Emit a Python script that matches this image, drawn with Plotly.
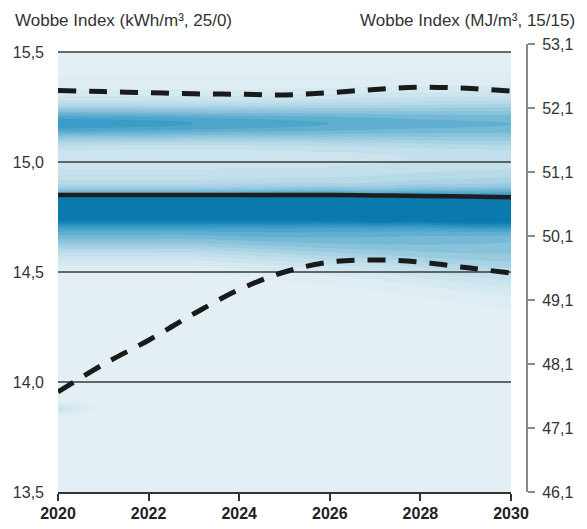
import numpy as np
import plotly.graph_objects as go

# ---- series (kWh/m³, 25/0) ----
years = list(range(2020, 2031))
median_kwh = [14.85, 14.85, 14.85, 14.85, 14.85, 14.85, 14.85, 14.848, 14.846, 14.843, 14.84]
upper_kwh = [15.325, 15.32, 15.315, 15.31, 15.308, 15.305, 15.315, 15.33, 15.34, 15.335, 15.322]
lower_kwh = [13.955, 14.08, 14.19, 14.31, 14.42, 14.50, 14.545, 14.555, 14.545, 14.52, 14.495]

# ---- axes ----
x_ticks = [2020, 2022, 2024, 2026, 2028, 2030]
left_ticks = [13.5, 14.0, 14.5, 15.0, 15.5]
left_labels = ["13,5", "14,0", "14,5", "15,0", "15,5"]
grid_levels = [14.0, 14.5, 15.0, 15.5]
right_ticks = [46.1, 47.1, 48.1, 49.1, 50.1, 51.1, 52.1, 53.1]
right_labels = ["46,1", "47,1", "48,1", "49,1", "50,1", "51,1", "52,1", "53,1"]

# ---- distribution bands per year: centre, spread, weight ----
core_center = [14.795, 14.795, 14.795, 14.795, 14.795, 14.795, 14.795, 14.79, 14.79, 14.785, 14.785]
core_sigma = [0.045, 0.045, 0.045, 0.045, 0.045, 0.046, 0.047, 0.048, 0.05, 0.052, 0.054]
core_weight = [1.0, 1.0, 1.0, 1.0, 1.0, 1.0, 1.0, 1.0, 0.98, 0.97, 0.95]

base_center = [14.70, 14.70, 14.70, 14.70, 14.695, 14.69, 14.68, 14.67, 14.66, 14.65, 14.64]
base_sigma = [0.09, 0.09, 0.09, 0.09, 0.095, 0.10, 0.105, 0.11, 0.12, 0.13, 0.14]
base_weight = [0.6, 0.6, 0.6, 0.6, 0.6, 0.6, 0.58, 0.56, 0.54, 0.52, 0.5]

shelf_center = [14.92, 14.92, 14.92, 14.92, 14.92, 14.92, 14.92, 14.92, 14.92, 14.92, 14.92]
shelf_sigma = [0.07, 0.07, 0.07, 0.07, 0.07, 0.07, 0.07, 0.07, 0.07, 0.07, 0.07]
shelf_weight = [0.2, 0.2, 0.2, 0.2, 0.2, 0.2, 0.2, 0.21, 0.22, 0.22, 0.22]

high_center = [15.175, 15.175, 15.175, 15.175, 15.175, 15.175, 15.175, 15.175, 15.175, 15.175, 15.175]
high_sigma = [0.055, 0.055, 0.055, 0.055, 0.056, 0.058, 0.06, 0.062, 0.065, 0.068, 0.07]
high_weight = [0.52, 0.51, 0.5, 0.48, 0.46, 0.43, 0.4, 0.37, 0.34, 0.32, 0.31]

halo_center = [15.17, 15.17, 15.17, 15.17, 15.17, 15.17, 15.17, 15.17, 15.17, 15.17, 15.17]
halo_sigma = [0.12, 0.12, 0.12, 0.12, 0.12, 0.12, 0.12, 0.12, 0.12, 0.12, 0.12]
halo_weight = [0.22, 0.22, 0.22, 0.22, 0.22, 0.23, 0.24, 0.25, 0.26, 0.27, 0.27]

low_center = [13.88, 13.88, 13.88, 13.88, 13.88, 13.88, 13.88, 13.88, 13.88, 13.88, 13.88]
low_sigma = [0.02, 0.02, 0.02, 0.02, 0.02, 0.02, 0.02, 0.02, 0.02, 0.02, 0.02]
low_weight = [0.2, 0.0, 0.0, 0.0, 0.0, 0.0, 0.0, 0.0, 0.0, 0.0, 0.0]

components = [
    (core_center, core_sigma, core_weight),
    (base_center, base_sigma, base_weight),
    (shelf_center, shelf_sigma, shelf_weight),
    (high_center, high_sigma, high_weight),
    (halo_center, halo_sigma, halo_weight),
    (low_center, low_sigma, low_weight),
]

y_grid = np.round(np.arange(13.5, 15.5001, 0.005), 4)
z = np.zeros((len(y_grid), len(years)))
for centers, sigmas, weights in components:
    c = np.array(centers)[None, :]
    s = np.array(sigmas)[None, :]
    w = np.array(weights)[None, :]
    z += w * np.exp(-0.5 * ((y_grid[:, None] - c) / s) ** 2)

FONT = "Liberation Sans, Arial, sans-serif"
TXT = "#333333"

W, H = 587, 529
ML, MR, MT, MB = 58, 60, 44, 37
plot_w = W - ML - MR
x_right_px = 511
x_dom = (x_right_px - ML) / plot_w
px_per_unit = 220.0
y_top = 13.5 + (H - MT - MB) / px_per_unit

fig = go.Figure()

fig.add_trace(go.Contour(
    x=years, y=y_grid, z=z,
    zmin=0, zmax=1.0,
    contours=dict(start=0.04, end=1.0, size=0.06, coloring="fill", showlines=False),
    line=dict(width=0),
    colorscale=[
        [0.0, "#e3eff5"],
        [0.15, "#cde5ee"],
        [0.3, "#b4d8e7"],
        [0.45, "#8ec5dc"],
        [0.6, "#5eaed1"],
        [0.75, "#3197c4"],
        [0.9, "#127fb5"],
        [1.0, "#0a79ae"],
    ],
    showscale=False,
    hoverinfo="skip",
))

# horizontal guide lines drawn over the shading
for lvl in grid_levels:
    fig.add_trace(go.Scatter(
        x=[years[0], years[-1]], y=[lvl, lvl], mode="lines",
        line=dict(color="#3a3a3a", width=1.3), hoverinfo="skip", showlegend=False,
    ))

fig.add_trace(go.Scatter(
    x=years, y=median_kwh, mode="lines",
    line=dict(color="#1e1e1e", width=4.5, shape="spline"), showlegend=False,
))
for series in (upper_kwh, lower_kwh):
    fig.add_trace(go.Scatter(
        x=years, y=series, mode="lines",
        line=dict(color="#1a1a1a", width=5, dash="18px,13px", shape="spline"),
        showlegend=False,
    ))

# carrier for the MJ/m³ axis
fig.add_trace(go.Scatter(
    x=[years[0]], y=[right_ticks[0]], yaxis="y2", mode="markers",
    marker=dict(opacity=0), hoverinfo="skip", showlegend=False,
))

fig.update_layout(
    width=W, height=H,
    margin=dict(l=ML, r=MR, t=MT, b=MB, autoexpand=False),
    paper_bgcolor="white", plot_bgcolor="white",
    font=dict(family=FONT, size=16, color=TXT),
    xaxis=dict(
        domain=[0, x_dom], range=[2020, 2030], automargin=False,
        tickvals=x_ticks, ticktext=[str(v) for v in x_ticks],
        ticks="outside", ticklen=7, tickwidth=1.5, tickcolor="#333333",
        showline=True, linecolor="#333333", linewidth=1.5,
        showgrid=False, zeroline=False, ticklabelstandoff=-1,
        tickfont=dict(family=FONT, size=16, color="#222222", weight="bold"),
    ),
    yaxis=dict(
        range=[13.5, y_top], automargin=False,
        tickvals=left_ticks, ticktext=left_labels,
        ticks="", showline=False, showgrid=False, zeroline=False,
        ticklabelstandoff=13,
        tickfont=dict(family=FONT, size=16, color=TXT),
    ),
    yaxis2=dict(
        overlaying="y", side="right", anchor="free", position=1.0, automargin=False,
        range=[right_ticks[0], right_ticks[-1]],
        tickvals=right_ticks, ticktext=right_labels,
        ticks="outside", ticklen=7, tickwidth=1.5, tickcolor="#8a8a8a",
        showline=True, linecolor="#8a8a8a", linewidth=2,
        showgrid=False, zeroline=False, ticklabelstandoff=4,
        tickfont=dict(family=FONT, size=16, color=TXT),
    ),
    annotations=[
        dict(text="Wobbe Index (kWh/m³, 25/0)", xref="paper", yref="paper",
             x=0, y=1, xanchor="left", yanchor="bottom", xshift=-45, yshift=12,
             showarrow=False, font=dict(family=FONT, size=17, color=TXT)),
        dict(text="Wobbe Index (MJ/m³, 15/15)", xref="paper", yref="paper",
             x=1, y=1, xanchor="right", yanchor="bottom", xshift=50, yshift=12,
             showarrow=False, font=dict(family=FONT, size=17, color=TXT)),
    ],
)

fig.write_html("out.html")
